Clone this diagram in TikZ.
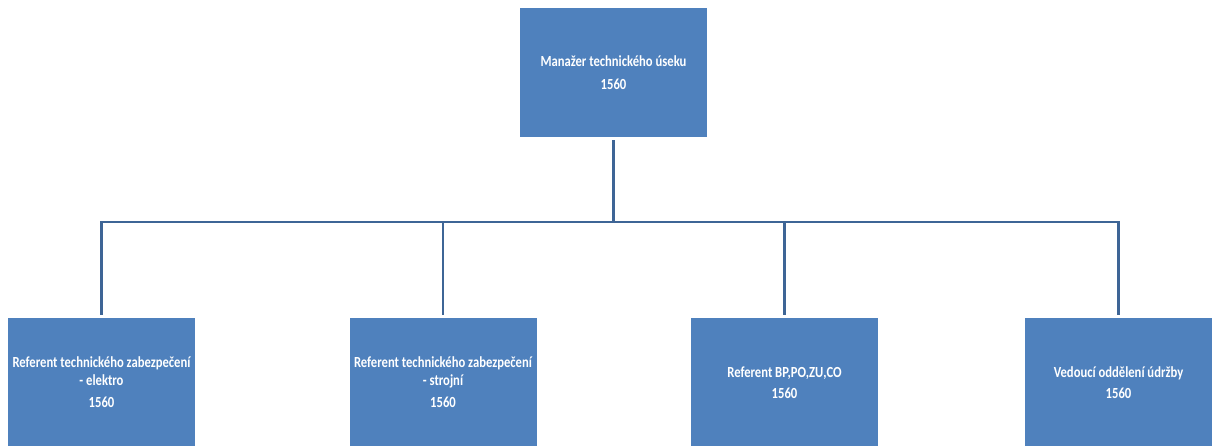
\documentclass[tikz,border=0pt]{standalone}
\usepackage{fontspec}
\setmainfont[FakeStretch=0.82]{Carlito}
\definecolor{boxblue}{RGB}{79,129,189}
\definecolor{linkblue}{RGB}{62,101,150}
\begin{document}
\begin{tikzpicture}[x=1pt,y=-1pt,
  unit/.style={fill=boxblue, text=white, minimum width=187pt, minimum height=129pt,
    inner sep=0pt, align=center, font=\bfseries\fontsize{15.4}{18}\selectfont},
  link/.style={draw=linkblue, line width=2.6pt, shorten >=3pt}]
  \useasboundingbox (0,0) rectangle (1216,446);
  \begin{scope}
  \clip (0,0) rectangle (1216,446);
  % head of the department
  \node[unit] (head) at (613.5,72.5) {Manažer technického úseku\\[5pt]1560};
  % subordinate positions
  \node[unit] (elektro) at (101.5,382.5) {Referent technického zabezpečení\\- elektro\\[4pt]1560};
  \node[unit] (strojni) at (443,382.5) {Referent technického zabezpečení\\- strojní\\[4pt]1560};
  \node[unit] (bp) at (784.5,382.5) {Referent BP,PO,ZU,CO\\[3pt]1560};
  \node[unit] (udrzba) at (1118.5,382.5) {Vedoucí oddělení údržby\\[3pt]1560};
  \end{scope}
  % connectors
  \coordinate (bus) at (613.5,222);
  \draw[draw=linkblue, line width=2.6pt, shorten <=3pt] (head.south) -- (bus);
  \draw[link] (bus) -| (elektro.north);
  \draw[link] (bus) -| (strojni.north);
  \draw[link] (bus) -| (bp.north);
  \draw[link] (bus) -| (udrzba.north);
\end{tikzpicture}
\end{document}
